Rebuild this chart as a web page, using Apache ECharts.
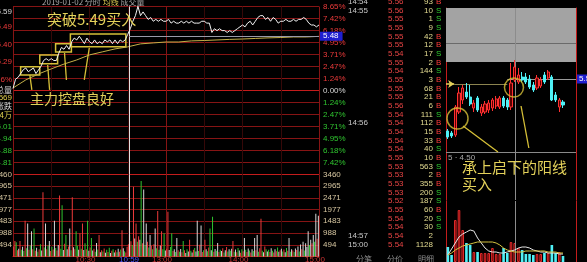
<!DOCTYPE html>
<html>
<head>
<meta charset="utf-8">
<script src="https://cdn.jsdelivr.net/npm/echarts@6.0.0/dist/echarts.min.js"></script>
<style>
html,body{margin:0;padding:0;background:#000;overflow:hidden;}
#chart{width:587px;height:262px;}
</style>
</head>
<body>
<div id="chart"></div>
<script>
// ================= DATA =================
const prevClose = 5.19;
const priceStepMin = 2;          // minutes between price samples
const prices = [
 5.20,5.25,5.26,5.28,5.30,5.31,5.29,5.30,5.31,5.28,
 5.30,5.32,5.35,5.36,5.35,5.36,5.35,5.35,5.39,5.42,
 5.41,5.43,5.41,5.45,5.47,5.46,5.48,5.46,5.44,5.47,
 5.45,5.44,5.46,5.44,5.45,5.44,5.46,5.45,5.46,5.44,
 5.46,5.44,5.46,5.45,5.46,5.49,5.52,5.56,5.59,5.64,
 5.59,5.61,5.59,5.57,5.58,5.56,5.57,5.56,5.57,5.56,
 5.56,5.57,5.55,5.56,5.55,5.55,5.56,5.55,5.56,5.55,
 5.56,5.55,5.55,5.55,5.56,5.56,5.55,5.55,5.50,5.52,
 5.51,5.52,5.51,5.51,5.50,5.51,5.50,5.51,5.52,5.53,
 5.54,5.53,5.55,5.56,5.54,5.56,5.58,5.59,5.59,5.57,
 5.58,5.56,5.58,5.57,5.55,5.56,5.56,5.57,5.56,5.56,
 5.57,5.56,5.57,5.57,5.58,5.57,5.55,5.54,5.54,5.53,
 5.54
];
const avgStepMin = 10;
const avgPrices = [5.203,5.246,5.278,5.305,5.331,5.353,5.380,5.396,5.412,5.423,5.439,5.444,5.449,
                   5.449,5.455,5.457,5.460,5.463,5.465,5.468,5.471,5.473,5.476,5.476,5.479];
const volumes = [
 420,650,600,260,330,650,280,410,230,1510,
 350,1390,280,460,1060,310,1180,240,370,200,
 300,520,250,2700,380,1390,310,460,650,230,
 410,290,1510,360,250,480,2570,330,2160,270,
 540,900,310,420,1180,260,2490,390,300,1060,
 450,280,980,330,1390,270,560,310,1510,240,
 380,775,250,330,200,570,290,900,180,260,
 210,340,160,280,190,370,150,240,310,170,
 260,180,330,200,290,1100,350,220,170,410,
 520,900,640,480,2940,760,1390,620,850,700,
 3180,560,2820,480,1390,620,380,900,450,300,
 520,1180,350,1920,280,460,1060,300,980,250,
 330,1880,270,400,980,230,310,190,775,260,
 200,320,180,650,260,150,300,210,700,240,
 170,280,360,210,1510,230,490,1310,190,260,
 700,300,220,380,1180,260,1670,200,320,240,
 570,190,280,230,350,170,260,400,210,300,
 240,330,650,200,290,180,360,250,160,310,
 220,775,280,190,340,250,170,300,230,775,
 260,900,200,350,1590,240,180,420,300,210,
 280,190,350,240,170,300,220,380,200,260,
 330,210,290,180,360,240,775,200,310,250,
 190,340,270,420,210,500,300,620,250,560,
 400,1060,480,700,560,900,620,1800,750,1720
];
// tick direction of each minute: u = up, d = down, e = unchanged
const volumeDirection = [
 'uudueudedu','deudeudued','udeudeudeu','duedueudde','udeuedueud','deuduedude',
 'udeudedueu','duedudeude','udeudueduu','ududueudue','duedeudeud','uedudeudde',
 'uuedduedeu','deuduedeud','eudeedueud','uedudedued','eudeudeude','deudeudeud',
 'uedueduede','ueduudeude','duedueudeu','edueduedeu','deuedeuede','eedeuedeue'
].join('');
const pctTickLabels = ['8.65%','7.42%','6.18%','4.95%','3.71%','2.47%','1.24%','0.00%',
                       '1.24%','2.47%','3.71%','4.95%','6.18%','7.42%','8.65%']; // top -> bottom
const leftPriceTickLabels = ['', '4.81', '4.88', '4.94', '5.01']; // -8.65% .. -3.71%
const volTickLabels = ['0','494','988','1483','1977','2471','2965','3460'];
const timeTickLabels = {60:'10:30', 120:'13:00', 180:'14:00', 240:'15:00'};
const crossMinute = 91, crossTime = '10:59', crossPrice = 5.48;
// annotation boxes: [startMinute, endMinute, lowPrice, highPrice]
const boxes = [[6,21,5.273,5.316],[21,35,5.332,5.380],[33.4,45.8,5.396,5.439],[45,88.5,5.423,5.492]];
// pointer lines: [minute1, price1, minute2, price2]
const pointerLines = [[14.8,5.193,13.2,5.273],[28.7,5.193,27.2,5.326],[41.9,5.246,40.4,5.390],[55.9,5.246,59.8,5.417]];
const header = ['2019-01-02 分时 ', '均线 ', '成交量'];
const infoTexts = ['5.59','5.49','5.40','5.29','5.56%','总量','569','涨跌','4万'];
const noteBreak = '突破5.49买入';
const noteControl = '主力控盘良好';
// tick-by-tick list
const tickTimes = ['14:54','14:55','','','','','','','','','','','','','14:56','','','','','','','','','','','','','14:57','15:00'];
const tickPrices = ['5.56','5.56','5.55','5.55','5.55','5.55','5.54','5.55','5.54','5.55','5.55','5.55','5.56','5.54','5.54',
                    '5.54','5.54','5.54','5.55','5.53','5.53','5.53','5.53','5.52','5.55','5.54','5.54','5.54','5.54'];
const tickVols = ['93','10','1','9','42','12','17','2','144','3','68','21','6','111','112',
                  '15','33','40','10','563','2','355','200','187','60','20','30','2','1128'];
const tickSides = ['B','S','S','S','B','B','S','B','S','B','B','B','B','S','B',
                   'B','B','S','B','S','B','B','S','S','B','S','S','',''];
const tabs = ['分笔','分价','明细'];
// daily K-line: [open, close, low, high]
const kData = [
 [4.98,4.92,4.90,5.00],[4.96,4.93,4.91,4.98],[4.94,5.22,4.92,5.24],[5.17,5.36,5.15,5.42],
 [5.29,5.41,5.25,5.44],[5.37,5.32,5.30,5.46],[5.32,5.25,5.23,5.44],[5.21,5.26,5.17,5.29],
 [5.31,5.19,5.17,5.33],[5.16,5.22,5.13,5.25],[5.17,5.25,5.15,5.28],[5.19,5.26,5.16,5.29],
 [5.21,5.29,5.18,5.31],[5.23,5.30,5.20,5.33],[5.22,5.31,5.20,5.33],[5.31,5.23,5.21,5.33],
 [5.29,5.22,5.19,5.31],[5.22,5.46,5.19,5.66],[5.49,5.62,5.47,5.69],[5.47,5.54,5.45,5.61],
 [5.52,5.49,5.47,5.57],[5.52,5.47,5.45,5.56],[5.50,5.42,5.40,5.54],[5.44,5.39,5.37,5.47],
 [5.41,5.51,5.39,5.54],[5.43,5.49,5.41,5.52],[5.54,5.47,5.45,5.57],[5.51,5.57,5.49,5.59],
 [5.52,5.29,5.28,5.54],[5.34,5.29,5.27,5.37],[5.22,5.29,5.17,5.31],[5.27,5.24,5.21,5.29]
];
const kVol  = [15,7,42,52,32,19,17,10,10,9,9,9,14,8,8,14,9,20,19,14,12,8,8,7,8,8,9,9,17,9,10,6];
const kMa5  = [7,13,19,25,28,30,32,31,24,19,14,11,10,10,9,9,10,11,12,14,15,15,14,12,11,10,10,9,9,9,8,8];
const kMa10 = [7,9,12,14,16,17,18,19,20,20,20,20,20,19,17,14,12,11,10,10,10,11,11,11,11,11,11,10,10,10,9,9];
const kCircles = [[2.6,5.105],[17.8,5.415]];
const kCrossIndex = 18.08, kCrossPrice = 5.50, kCrossLabel = '5.5';
const kArrowPrice = 5.45;
const kPointerLines = [[4.1,5.03,13.5,4.77],[19.7,5.23,21.8,4.81]];
const kLowerLinePrice = 4.77, kLowerLabel = '5 · 4.50';
const kHideTop = 6.21, kHideBottom = 5.67, kHideMid = 5.86;
const kNote1 = '承上启下的阳线', kNote2 = '买入';

// ================= CHART =================
const RED = '#ec3a3a', GREEN = '#2fc42f', WHITE = '#d6d6d6';
const GRID = '#861414', GRID_B = '#c41c1c', FAINT = '#360808';
const NOTE = '#e4d25a', BOX = '#d6c038';
const pctStep = 8.65 / 7;                       // percent per grid row
const Y = p => (p / prevClose - 1) * 100 / pctStep;
const volStep = 3460 / 7;
const dirColor = {u: RED, d: GREEN, e: WHITE};
const NUMFONT = 'Liberation Sans';
const CJK = 'Noto Sans CJK SC';

const hColors = [];
for (let i = 0; i <= 14; i++) hColors.push(i === 7 || i === 0 ? GRID_B : GRID);
const vColors = [GRID, FAINT, FAINT, FAINT, GRID, FAINT, FAINT, FAINT, GRID];

const noLbl = {show: false};
const yellowLine = {color: BOX, width: 1.3, type: 'solid'};

const priceSeries = {
  type: 'line', xAxisIndex: 0, yAxisIndex: 0, z: 5,
  data: prices.map((p, i) => [i * priceStepMin, Y(p)]),
  showSymbol: false, symbol: 'none',
  lineStyle: {color: '#f2f2f2', width: 1},
  markArea: {
    silent: true,
    itemStyle: {color: 'rgba(0,0,0,0)', borderColor: BOX, borderWidth: 1.5},
    data: boxes.map(b => [{coord: [b[0], Y(b[3])]}, {coord: [b[1], Y(b[2])]}])
  },
  markLine: {
    silent: true, symbol: ['none', 'none'], animation: false,
    label: noLbl,
    data: [
      ...pointerLines.map(l => [
        {coord: [l[0], Y(l[1])], lineStyle: yellowLine, label: noLbl},
        {coord: [l[2], Y(l[3])], lineStyle: yellowLine, label: noLbl}]),
      {xAxis: crossMinute, lineStyle: {color: '#e0e0e0', width: 1, type: 'solid'}, label: noLbl},
      [{coord: [crossMinute, Y(crossPrice)], lineStyle: {color: '#9a9aa8', width: 1, type: 'solid'},
        label: {show: true, position: 'end', formatter: crossPrice.toFixed(2), color: '#fff',
                backgroundColor: '#1f1fd0', padding: [1, 4, 0, 3], fontSize: 8, fontFamily: NUMFONT, distance: 1}},
       {coord: [240, Y(crossPrice)]}]
    ]
  }
};

const avgSeries = {
  type: 'line', xAxisIndex: 0, yAxisIndex: 0, z: 4,
  data: avgPrices.map((p, i) => [i * avgStepMin, Y(p)]),
  showSymbol: false, symbol: 'none',
  lineStyle: {color: '#c4b048', width: 1}
};

const volSeries = {
  type: 'bar', xAxisIndex: 1, yAxisIndex: 2, barWidth: 1, z: 3,
  data: volumes.map((v, i) => ({value: [i + 0.5, v / volStep],
    itemStyle: {color: dirColor[volumeDirection[i]] || WHITE}})),
  markLine: {
    silent: true, symbol: ['none', 'none'], animation: false,
    data: [{xAxis: crossMinute, lineStyle: {color: '#e0e0e0', width: 1, type: 'solid'},
            label: {show: true, position: 'start', formatter: crossTime, color: '#5050ff',
                    fontSize: 8, fontFamily: NUMFONT, distance: -1}}]
  }
};

const kLine = (a, b, style, extra) => [
  Object.assign({coord: a, lineStyle: style, label: noLbl}, extra && extra[0]),
  Object.assign({coord: b, lineStyle: style, label: noLbl}, extra && extra[1])
];

const kSeries = {
  type: 'candlestick', xAxisIndex: 2, yAxisIndex: 4, z: 5,
  data: kData.map((d, i) => [i, d[0], d[1], d[2], d[3]]),
  encode: {x: 0, y: [1, 2, 3, 4]},
  barWidth: 2.6,
  itemStyle: {color: '#5a0000', color0: '#4ff0f6', borderColor: '#ff3030', borderColor0: '#4ff0f6', borderWidth: 1},
  markArea: {
    silent: true, z: 1,
    itemStyle: {color: '#a3a3a3'},
    data: [[{coord: [-0.5, kHideTop]}, {coord: [34.5, kHideBottom]}]]
  },
  markLine: {
    silent: true, symbol: ['none', 'none'], animation: false, label: noLbl,
    data: [
      kLine([-0.5, kHideMid], [34.5, kHideMid], {color: '#6a6a6a', width: 1, type: 'solid'}),
      {xAxis: kCrossIndex, lineStyle: {color: '#8c8c8c', width: 1, type: 'solid'}, label: noLbl},
      kLine([16, kCrossPrice], [34.5, kCrossPrice], {color: '#9a9a9a', width: 1, type: 'solid'},
            [{label: {show: true, position: 'end', formatter: kCrossLabel, color: '#fff', backgroundColor: '#1f1fd0',
                      padding: [1, 4, 0, 2], fontSize: 8, fontFamily: NUMFONT, distance: 1}}, {}]),
      kLine([-0.5, kArrowPrice], [1.7, kArrowPrice], {color: NOTE, width: 1.5, type: 'solid'},
            [{symbol: 'none'}, {symbol: 'arrow', symbolSize: 6}]),
      kLine([1.7, kArrowPrice], [16, kArrowPrice], {color: '#8c8450', width: 1, type: 'solid'}),
      kLine([-0.5, kLowerLinePrice], [34.5, kLowerLinePrice], {color: '#8a8a8a', width: 1, type: 'solid'},
            [{label: {show: true, position: 'insideStartBottom', formatter: kLowerLabel, color: '#a8a8a8',
                      fontSize: 8, fontFamily: NUMFONT, distance: 2}}, {}]),
      ...kPointerLines.map(l => kLine([l[0], l[1]], [l[2], l[3]], {color: BOX, width: 1.3, type: 'solid'}))
    ]
  }
};

const circleSeries = {
  type: 'scatter', xAxisIndex: 2, yAxisIndex: 4, z: 8,
  data: kCircles, symbol: 'circle', symbolSize: (v, p) => p.dataIndex === 0 ? 21 : 19,
  itemStyle: {color: 'rgba(0,0,0,0)', borderColor: BOX, borderWidth: 1.5}
};

const kVolSeries = {
  type: 'bar', xAxisIndex: 3, yAxisIndex: 5, barWidth: 2.6, z: 3,
  data: kVol.map((v, i) => {
    const up = kData[i][1] >= kData[i][0];
    return {value: [i, v], itemStyle: up ? {color: '#5a0000', borderColor: '#e02a2a', borderWidth: 1}
                                         : {color: '#4ff0f6'}};
  }),
  markLine: {
    silent: true, symbol: ['none', 'none'], animation: false,
    data: [{xAxis: kCrossIndex, lineStyle: {color: '#8c8c8c', width: 1, type: 'solid'}, label: noLbl}]
  }
};
const kMa5Series = {type: 'line', xAxisIndex: 3, yAxisIndex: 5, z: 6, showSymbol: false, symbol: 'none',
  data: kMa5.map((v, i) => [i, v]), lineStyle: {color: '#e6e6e6', width: 1}};
const kMa10Series = {type: 'line', xAxisIndex: 3, yAxisIndex: 5, z: 6, showSymbol: false, symbol: 'none',
  data: kMa10.map((v, i) => [i, v]), lineStyle: {color: '#d4c240', width: 1}};

// ---------- texts ----------
const elements = [];
function txt(x, y, text, fill, size, align, family, va) {
  elements.push({type: 'text', x: x, y: y, silent: true, z: 100,
    style: {text: text, fill: fill, font: size + 'px "' + (family || NUMFONT) + '"',
            align: align || 'left', verticalAlign: va || 'middle'}});
}
// header
elements.push({type: 'text', x: 42, y: 2, silent: true, z: 100,
  style: {text: '{a|' + header[0] + '}{b|' + header[1] + '}{c|' + header[2] + '}', verticalAlign: 'middle',
    rich: {a: {fill: '#a8a8a8', font: '8px "' + CJK + '"'}, b: {fill: '#d8c850', font: '8px "' + CJK + '"'},
           c: {fill: '#a8a8a8', font: '8px "' + CJK + '"'}}}});
// left info column
const infoY = [12, 27, 45, 62, 80, 90, 98, 106, 115];
const infoC = [WHITE, RED, RED, RED, RED, WHITE, '#e0d050', WHITE, '#e0d050'];
infoTexts.forEach((t, i) => txt(12, infoY[i], t, infoC[i], 8, 'right', /[\u4e00-\u9fff]/.test(t) ? CJK : NUMFONT));
// notes on the intraday chart
txt(47, 12, noteBreak, NOTE, 15, 'left', CJK, 'top');
txt(30, 92, noteControl, NOTE, 14, 'left', CJK, 'top');
// notes on the K-line chart
txt(462, 160, kNote1, NOTE, 15, 'left', CJK, 'top');
txt(462, 177, kNote2, NOTE, 15, 'left', CJK, 'top');
// tick list
tickPrices.forEach((p, i) => {
  const y = 1.7 + i * 8.67;
  if (tickTimes[i]) txt(348, y, tickTimes[i], '#c8c8c8', 8);
  txt(388, y, p, '#e84444', 8);
  txt(433, y, tickVols[i], '#e2da90', 8, 'right');
  if (tickSides[i]) txt(436, y, tickSides[i], tickSides[i] === 'B' ? '#ff3c3c' : '#30d030', 8);
});
tabs.forEach((t, i) => txt(356 + i * 31, 259, t, '#8a8a8a', 8, 'left', CJK));

const axisFont = {fontSize: 8, fontFamily: NUMFONT};
const gridBase = {outerBoundsMode: 'none', containLabel: false};
const option = {
  backgroundColor: '#000',
  animation: false,
  grid: [
    Object.assign({left: 13, top: 6.5, width: 306, height: 167.8}, gridBase),
    Object.assign({left: 13, top: 174.3, width: 306, height: 82.2}, gridBase),
    Object.assign({left: 446, top: 8, width: 130, height: 192}, gridBase),
    Object.assign({left: 446, top: 201, width: 130, height: 61}, gridBase)
  ],
  xAxis: [
    {gridIndex: 0, type: 'value', min: 0, max: 240, interval: 30,
     axisLabel: {show: false}, axisTick: {show: false}, axisLine: {show: false},
     splitLine: {show: true, lineStyle: {color: vColors, width: 1}}},
    {gridIndex: 1, type: 'value', min: 0, max: 240, interval: 30,
     axisTick: {show: false}, axisLine: {show: true, lineStyle: {color: GRID_B}},
     splitLine: {show: true, lineStyle: {color: vColors, width: 1}},
     axisLabel: Object.assign({show: true, color: '#c83232', margin: -1, align: 'center', padding: [0, 8, 0, 0],
       showMinLabel: false, formatter: v => timeTickLabels[Math.round(v)] || ''}, axisFont)},
    {gridIndex: 2, type: 'value', min: -0.5, max: 34.5, show: false},
    {gridIndex: 3, type: 'value', min: -0.5, max: 34.5, position: 'top',
     axisLine: {show: true, lineStyle: {color: GRID_B}}, axisTick: {show: false}, axisLabel: {show: false},
     splitLine: {show: false}}
  ],
  yAxis: [
    {gridIndex: 0, type: 'value', position: 'right', min: -7, max: 7, interval: 1,
     axisLine: {show: true, lineStyle: {color: GRID}}, axisTick: {show: false},
     splitLine: {show: true, lineStyle: {color: hColors, width: 1}},
     axisLabel: Object.assign({show: true, margin: 4, showMinLabel: false,
       formatter: v => pctTickLabels[7 - Math.round(v)] || '',
       color: v => Math.round(v) > 0 ? RED : (Math.round(v) < 0 ? GREEN : WHITE)}, axisFont)},
    {gridIndex: 0, type: 'value', position: 'left', min: -7, max: 7, interval: 1,
     axisLine: {show: true, lineStyle: {color: GRID}}, axisTick: {show: false}, splitLine: {show: false},
     axisLabel: Object.assign({show: true, margin: 1, color: GREEN,
       formatter: v => leftPriceTickLabels[Math.round(v) + 7] || ''}, axisFont)},
    {gridIndex: 1, type: 'value', position: 'right', min: 0, max: 7, interval: 1,
     axisLine: {show: true, lineStyle: {color: GRID}}, axisTick: {show: false},
     splitLine: {show: true, lineStyle: {color: [GRID_B, GRID, GRID, GRID, GRID, GRID, GRID, GRID_B], width: 1}},
     axisLabel: Object.assign({show: true, margin: 4, showMinLabel: false, color: '#d6c6a0',
       formatter: v => volTickLabels[Math.round(v)] || ''}, axisFont)},
    {gridIndex: 1, type: 'value', position: 'left', min: 0, max: 7, interval: 1,
     axisLine: {show: true, lineStyle: {color: GRID}}, axisTick: {show: false}, splitLine: {show: false},
     axisLabel: Object.assign({show: true, margin: 1, showMinLabel: false, color: '#d6c6a0',
       formatter: v => volTickLabels[Math.round(v)] || ''}, axisFont)},
    {gridIndex: 2, type: 'value', position: 'right', min: 4.29, max: 6.21,
     axisLine: {show: true, onZero: false, lineStyle: {color: GRID_B}}, axisTick: {show: false},
     axisLabel: {show: false}, splitLine: {show: false}},
    {gridIndex: 3, type: 'value', position: 'right', min: 0, max: 61,
     axisLine: {show: true, onZero: false, lineStyle: {color: GRID_B}}, axisTick: {show: false},
     axisLabel: {show: false}, splitLine: {show: false}},
    {gridIndex: 2, type: 'value', position: 'left', min: 4.29, max: 6.21,
     axisLine: {show: true, onZero: false, lineStyle: {color: GRID_B}}, axisTick: {show: false},
     axisLabel: {show: false}, splitLine: {show: false}},
    {gridIndex: 3, type: 'value', position: 'left', min: 0, max: 61,
     axisLine: {show: true, onZero: false, lineStyle: {color: GRID_B}}, axisTick: {show: false},
     axisLabel: {show: false}, splitLine: {show: false}}
  ],
  series: [avgSeries, priceSeries, volSeries, kSeries, circleSeries, kVolSeries, kMa5Series, kMa10Series],
  graphic: {elements: elements}
};

const chart = echarts.init(document.getElementById('chart'), null, {renderer: 'canvas', width: 587, height: 262});
chart.setOption(option);
</script>
</body>
</html>
